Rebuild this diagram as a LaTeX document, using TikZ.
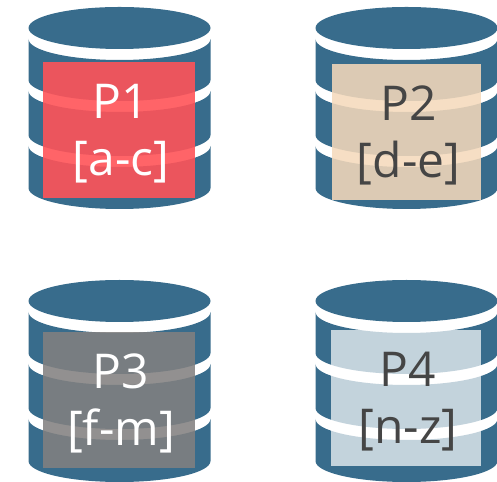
\documentclass[tikz,border=0pt]{standalone}
\usepackage{fontspec}
\setmainfont{Open Sans}
\definecolor{azuldisco}{HTML}{386C8C}
\definecolor{rojop}{HTML}{FF5358}
\definecolor{arenap}{HTML}{F5D9BB}
\definecolor{grisp}{HTML}{828080}
\definecolor{textop}{HTML}{454545}
% Cada disco se dibuja desde el centro de su tapa.
\newcommand{\disco}[2]{
\begin{scope}[shift={(#1,#2)}]
\fill[azuldisco] (0,0) ellipse (1.82 and 0.42);
\foreach \arriba/\abajo in {-0.22/-1.04, -1.26/-2.14, -2.36/-3.2}
  \fill[azuldisco] (-1.82,\arriba) arc[start angle=180, end angle=360, x radius=1.82, y radius=0.42] -- (1.82,\abajo) arc[start angle=0, end angle=-180, x radius=1.82, y radius=0.42] -- cycle;
\end{scope}
}
\tikzset{
  particion/.style={minimum height=2.72cm, inner sep=0pt},
  rango/.style={inner sep=0pt, align=center, xshift=0.04cm, yshift=-0.07cm,
    font=\fontsize{27.3}{32.4}\selectfont}
}
\begin{document}
\begin{tikzpicture}
\useasboundingbox (0,0) rectangle (9.94,9.62);

% Los cuatro discos
\disco{2.39}{9.06}
\disco{8.13}{9.06}
\disco{2.39}{3.6}
\disco{8.13}{3.6}

% Encima, un rectangulo semitransparente por particion
\node[particion, minimum width=3.04cm, fill=rojop, fill opacity=0.9] (p1) at (2.38,7.02) {};
\node[particion, minimum width=2.98cm, fill=arenap, fill opacity=0.87] (p2) at (8.13,6.98) {};
\node[particion, minimum width=3.04cm, fill=grisp, fill opacity=0.87] (p3) at (2.38,1.62) {};
\node[particion, minimum width=3cm, fill=white, fill opacity=0.7] (p4) at (8.12,1.66) {};

% Y el rango de cada una
\node[rango, text=white] (t1) at (p1) {P1\\{}[a-c]};
\node[rango, text=textop] (t2) at (p2) {P2\\{}[d-e]};
\node[rango, text=white] (t3) at (p3) {P3\\{}[f-m]};
\node[rango, text=textop] (t4) at (p4) {P4\\{}[n-z]};
\end{tikzpicture}
\end{document}
